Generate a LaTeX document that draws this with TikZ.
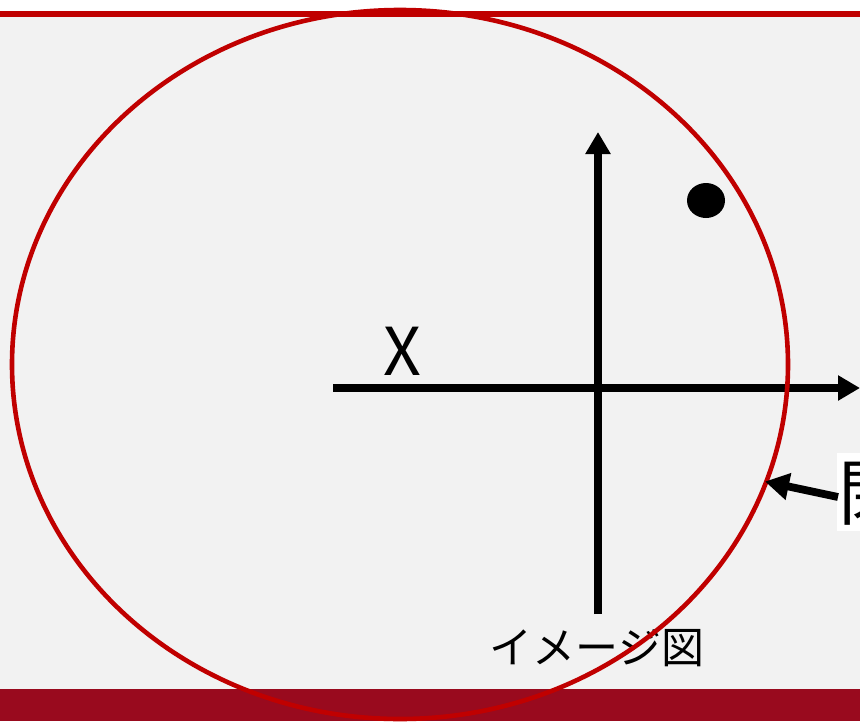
\documentclass[tikz,border=0pt]{standalone}
\usepackage{fontspec}
\newfontfamily\cjk{Noto Sans CJK JP}
\usetikzlibrary{arrows.meta}
\definecolor{slidegray}{HTML}{F2F2F2}
\definecolor{accentred}{HTML}{C00000}
\definecolor{bandred}{HTML}{990A1E}
\tikzset{
  axis/.style={line width=7.8pt, -{Triangle[length=22pt,width=24pt]}},
  pointer/.style={line width=7.8pt, -{Triangle[length=24pt,width=26pt]}},
  curve/.style={draw=accentred, line width=4.6pt},
  lbl/.style={font=\cjk, inner sep=0pt, text=black}
}
\begin{document}
\begin{tikzpicture}[x=1pt,y=-1pt]
\useasboundingbox (0,0) rectangle (860,721);
\fill[white] (0,0) rectangle (860,721);
\fill[slidegray] (0,16.5) rectangle (860,689);
\fill[accentred] (0,10.5) rectangle (860,16.5);
\fill[bandred] (0,689) rectangle (860,721);
% labels
\node[lbl, font=\cjk\fontsize{43}{48}\selectfont] (img) at (597,648) {イメージ図};
\node[lbl, font=\cjk\fontsize{66}{70}\selectfont] (xl) at (402,351) {X};
\node[lbl, fill=white, anchor=west, inner xsep=1pt, inner ysep=6pt, font=\cjk\fontsize{72}{76}\selectfont] (closed) at (837,492) {閉曲線};
% axes
\coordinate (hs) at (333,388);
\coordinate (he) at (860,388);
\coordinate (vs) at (598,614);
\coordinate (ve) at (598,132);
\draw[axis] (hs) -- (he);
\draw[axis] (vs) -- (ve);
% dot
\fill[black] (706,200.5) ellipse [x radius=19, y radius=17.5];
\node[inner sep=0pt] (dot) at (706,200.5) {};
% ellipse
\draw[curve] (400,364.5) ellipse [x radius=388, y radius=354.5];
\coordinate (tip) at (765,481.5);
\draw[pointer] (closed.west) ++(1,5) coordinate (ps) -- (tip);
\end{tikzpicture}
\end{document}
